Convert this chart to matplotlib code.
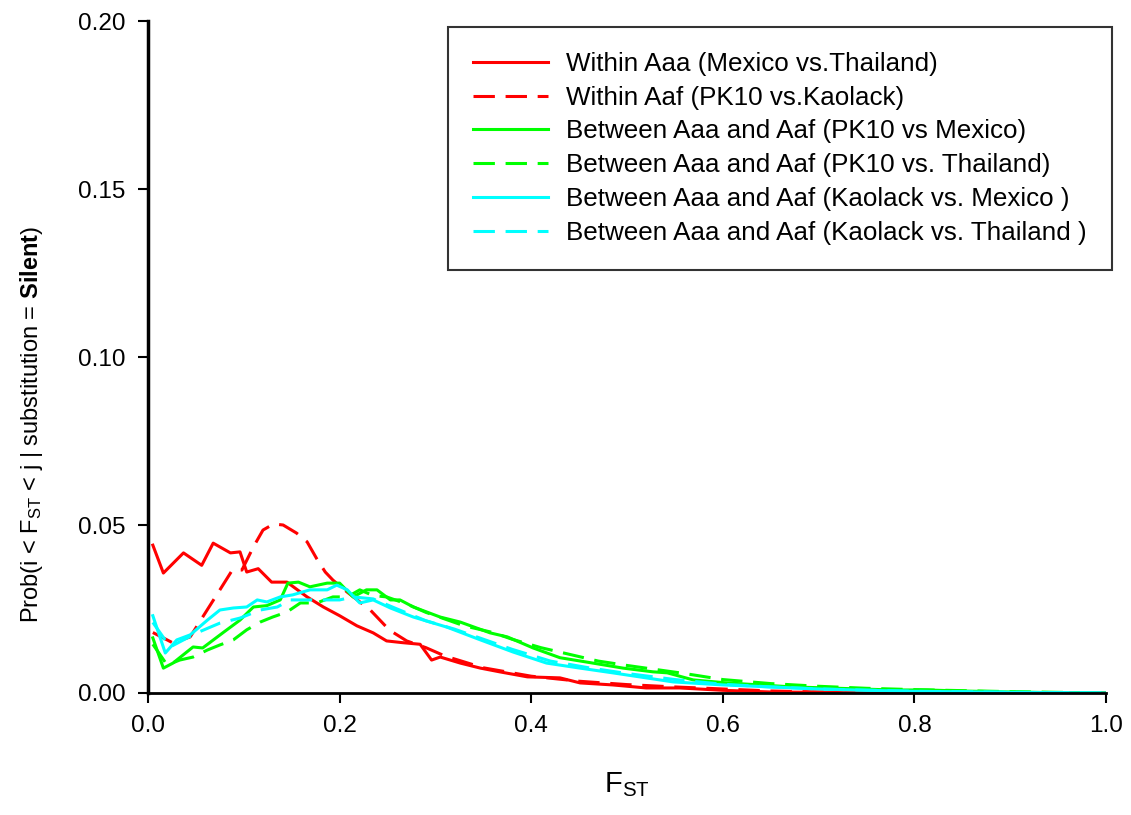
import matplotlib
matplotlib.use('Agg')
import matplotlib.pyplot as plt

plt.rcParams['font.family'] = ['Liberation Sans', 'DejaVu Sans']
plt.rcParams['mathtext.fontset'] = 'custom'
plt.rcParams['mathtext.rm'] = 'Liberation Sans'
plt.rcParams['mathtext.it'] = 'Liberation Sans'
plt.rcParams['mathtext.bf'] = 'Liberation Sans:bold'

# Series
red_solid_x = [0.005, 0.016, 0.037, 0.056, 0.068, 0.086, 0.096, 0.103, 0.115, 0.129, 0.145, 0.166, 0.183, 0.2,
               0.218, 0.235, 0.249, 0.265, 0.284, 0.296, 0.305, 0.326, 0.347, 0.367, 0.396, 0.43, 0.451, 0.485,
               0.52, 0.555, 0.6, 0.65, 0.7, 0.8, 0.9, 1.0]
red_solid_y = [0.044, 0.0357, 0.0417, 0.038, 0.0446, 0.0417, 0.042, 0.036, 0.037, 0.033, 0.033, 0.0286, 0.0256,
               0.023, 0.020, 0.0179, 0.0155, 0.015, 0.0145, 0.0098, 0.0107, 0.0089, 0.0074, 0.0063, 0.0048,
               0.0045, 0.003, 0.0024, 0.0015, 0.0015, 0.0008, 0.0003, 0.0002, 0.0001, 0.0, 0.0]

red_dash_x = [0.005, 0.026, 0.044, 0.057, 0.075, 0.088, 0.098, 0.11, 0.12, 0.131, 0.141, 0.155, 0.166, 0.176,
              0.185, 0.193, 0.208, 0.232, 0.249, 0.256, 0.27, 0.29, 0.31, 0.35, 0.4, 0.45, 0.5, 0.55, 0.6, 0.65,
              0.7, 0.8, 0.9, 1.0]
red_dash_y = [0.018, 0.0149, 0.0167, 0.0226, 0.0307, 0.0366, 0.0366, 0.0435, 0.0485, 0.0503, 0.050, 0.0476,
              0.045, 0.040, 0.036, 0.0336, 0.030, 0.0247, 0.0196, 0.018, 0.0155, 0.0135, 0.011, 0.0075, 0.005,
              0.0035, 0.0025, 0.0018, 0.0012, 0.0006, 0.0003, 0.0002, 0.0001, 0.0]

green_solid_x = [0.005, 0.016, 0.026, 0.047, 0.057, 0.078, 0.096, 0.11, 0.124, 0.138, 0.146, 0.157, 0.169, 0.187,
                 0.2, 0.214, 0.228, 0.239, 0.253, 0.263, 0.277, 0.305, 0.326, 0.357, 0.375, 0.402, 0.43, 0.458,
                 0.496, 0.527, 0.542, 0.569, 0.604, 0.639, 0.673, 0.709, 0.743, 0.778, 0.813, 0.848, 0.9, 0.95, 1.0]
green_solid_y = [0.0164, 0.0074, 0.0089, 0.0137, 0.0134, 0.0179, 0.0217, 0.0256, 0.026, 0.0277, 0.0327, 0.033,
                 0.0316, 0.0327, 0.0327, 0.0286, 0.0307, 0.0307, 0.0277, 0.0277, 0.0256, 0.0226, 0.0211, 0.0179,
                 0.0167, 0.0134, 0.0105, 0.0092, 0.0074, 0.0063, 0.006, 0.0039, 0.003, 0.0024, 0.0018, 0.0015,
                 0.0012, 0.0009, 0.0009, 0.0006, 0.0003, 0.0001, 0.0]

green_dash_x = [0.005, 0.02, 0.033, 0.047, 0.062, 0.075, 0.089, 0.103, 0.117, 0.13, 0.145, 0.159, 0.176, 0.193,
                0.208, 0.221, 0.235, 0.249, 0.27, 0.29, 0.31, 0.33, 0.36, 0.38, 0.41, 0.44, 0.47, 0.5, 0.53, 0.56,
                0.6, 0.65, 0.7, 0.75, 0.8, 0.85, 0.9, 0.95, 1.0]
green_dash_y = [0.0145, 0.0083, 0.0098, 0.0107, 0.0128, 0.0143, 0.0158, 0.0188, 0.0211, 0.0226, 0.0241, 0.0268,
                0.0268, 0.0286, 0.0286, 0.0307, 0.029, 0.0286, 0.0265, 0.024, 0.022, 0.02, 0.018, 0.016, 0.0135,
                0.0115, 0.0095, 0.0082, 0.007, 0.0058, 0.004, 0.0028, 0.002, 0.0014, 0.001, 0.0007, 0.0004,
                0.0002, 0.0]

cyan_solid_x = [0.005, 0.018, 0.03, 0.044, 0.062, 0.075, 0.089, 0.103, 0.114, 0.124, 0.138, 0.151, 0.169, 0.187,
                0.197, 0.208, 0.221, 0.235, 0.253, 0.277, 0.312, 0.347, 0.381, 0.416, 0.451, 0.485, 0.52, 0.548,
                0.6, 0.65, 0.7, 0.75, 0.8, 0.9, 1.0]
cyan_solid_y = [0.023, 0.0119, 0.0158, 0.0173, 0.0217, 0.0247, 0.0253, 0.0256, 0.0277, 0.0271, 0.0286, 0.0292,
                0.0307, 0.0307, 0.0321, 0.0307, 0.0268, 0.0277, 0.0253, 0.0226, 0.0196, 0.0158, 0.0122, 0.0089,
                0.0074, 0.006, 0.0045, 0.0033, 0.0024, 0.0018, 0.0012, 0.0008, 0.0005, 0.0002, 0.0]

cyan_dash_x = [0.005, 0.023, 0.037, 0.051, 0.065, 0.075, 0.096, 0.117, 0.135, 0.148, 0.166, 0.2, 0.214, 0.235,
               0.26, 0.29, 0.32, 0.35, 0.38, 0.42, 0.46, 0.5, 0.55, 0.6, 0.65, 0.7, 0.8, 0.9, 1.0]
cyan_dash_y = [0.021, 0.0137, 0.0158, 0.0179, 0.0196, 0.0208, 0.0223, 0.0247, 0.0256, 0.0277, 0.0277, 0.0277,
               0.0286, 0.028, 0.025, 0.0215, 0.019, 0.016, 0.013, 0.0095, 0.0075, 0.0058, 0.004, 0.0026, 0.0018,
               0.0012, 0.0005, 0.0002, 0.0]

labels = ['Within Aaa (Mexico vs.Thailand)',
          'Within Aaf (PK10 vs.Kaolack)',
          'Between Aaa and Aaf (PK10 vs Mexico)',
          'Between Aaa and Aaf (PK10 vs. Thailand)',
          'Between Aaa and Aaf (Kaolack vs. Mexico )',
          'Between Aaa and Aaf (Kaolack vs. Thailand )']

fig = plt.figure(figsize=(11.31, 8.15), dpi=100)
ax = fig.add_axes([0.1309, 0.1497, 0.8470, 0.8245])

dash = (7, 3.5)
lw = 2.2
ax.plot(red_solid_x, red_solid_y, color='#ff0000', lw=lw, label=labels[0])
ax.plot(red_dash_x, red_dash_y, color='#ff0000', lw=lw, dashes=dash, label=labels[1])
ax.plot(green_solid_x, green_solid_y, color='#00ff00', lw=lw, label=labels[2])
ax.plot(green_dash_x, green_dash_y, color='#00ff00', lw=lw, dashes=dash, label=labels[3])
ax.plot(cyan_solid_x, cyan_solid_y, color='#00ffff', lw=lw, label=labels[4])
ax.plot(cyan_dash_x, cyan_dash_y, color='#00ffff', lw=lw, dashes=dash, label=labels[5])

ax.set_xlim(0, 1.0)
ax.set_ylim(0, 0.20)
ax.set_xticks([0.0, 0.2, 0.4, 0.6, 0.8, 1.0])
ax.set_xticklabels(['0.0', '0.2', '0.4', '0.6', '0.8', '1.0'])
ax.set_yticks([0.0, 0.05, 0.10, 0.15, 0.20])
ax.set_yticklabels(['0.00', '0.05', '0.10', '0.15', '0.20'])
ax.tick_params(direction='out', length=7, width=1.5, labelsize=17.5, pad=9)

ax.spines['top'].set_visible(False)
ax.spines['right'].set_visible(False)
ax.spines['left'].set_linewidth(2.5)
ax.spines['bottom'].set_linewidth(2)

ax.set_xlabel(r'F$_{\mathregular{ST}}$', fontsize=21, labelpad=24)
ax.set_ylabel(r'Prob(i < F$_{\mathregular{ST}}$ < j | substitution = $\mathbf{Silent}$)', fontsize=17)
ax.yaxis.set_label_coords(-0.1075, 0.40)

leg = ax.legend(loc='upper right', bbox_to_anchor=(1.006, 0.991), fontsize=18.7, frameon=True, fancybox=False,
                handlelength=2.9, borderpad=0.95, labelspacing=0.38, handletextpad=0.7, borderaxespad=0)
leg.get_frame().set_edgecolor('black')
leg.get_frame().set_linewidth(1.5)

fig.savefig('out.png', dpi=100)
